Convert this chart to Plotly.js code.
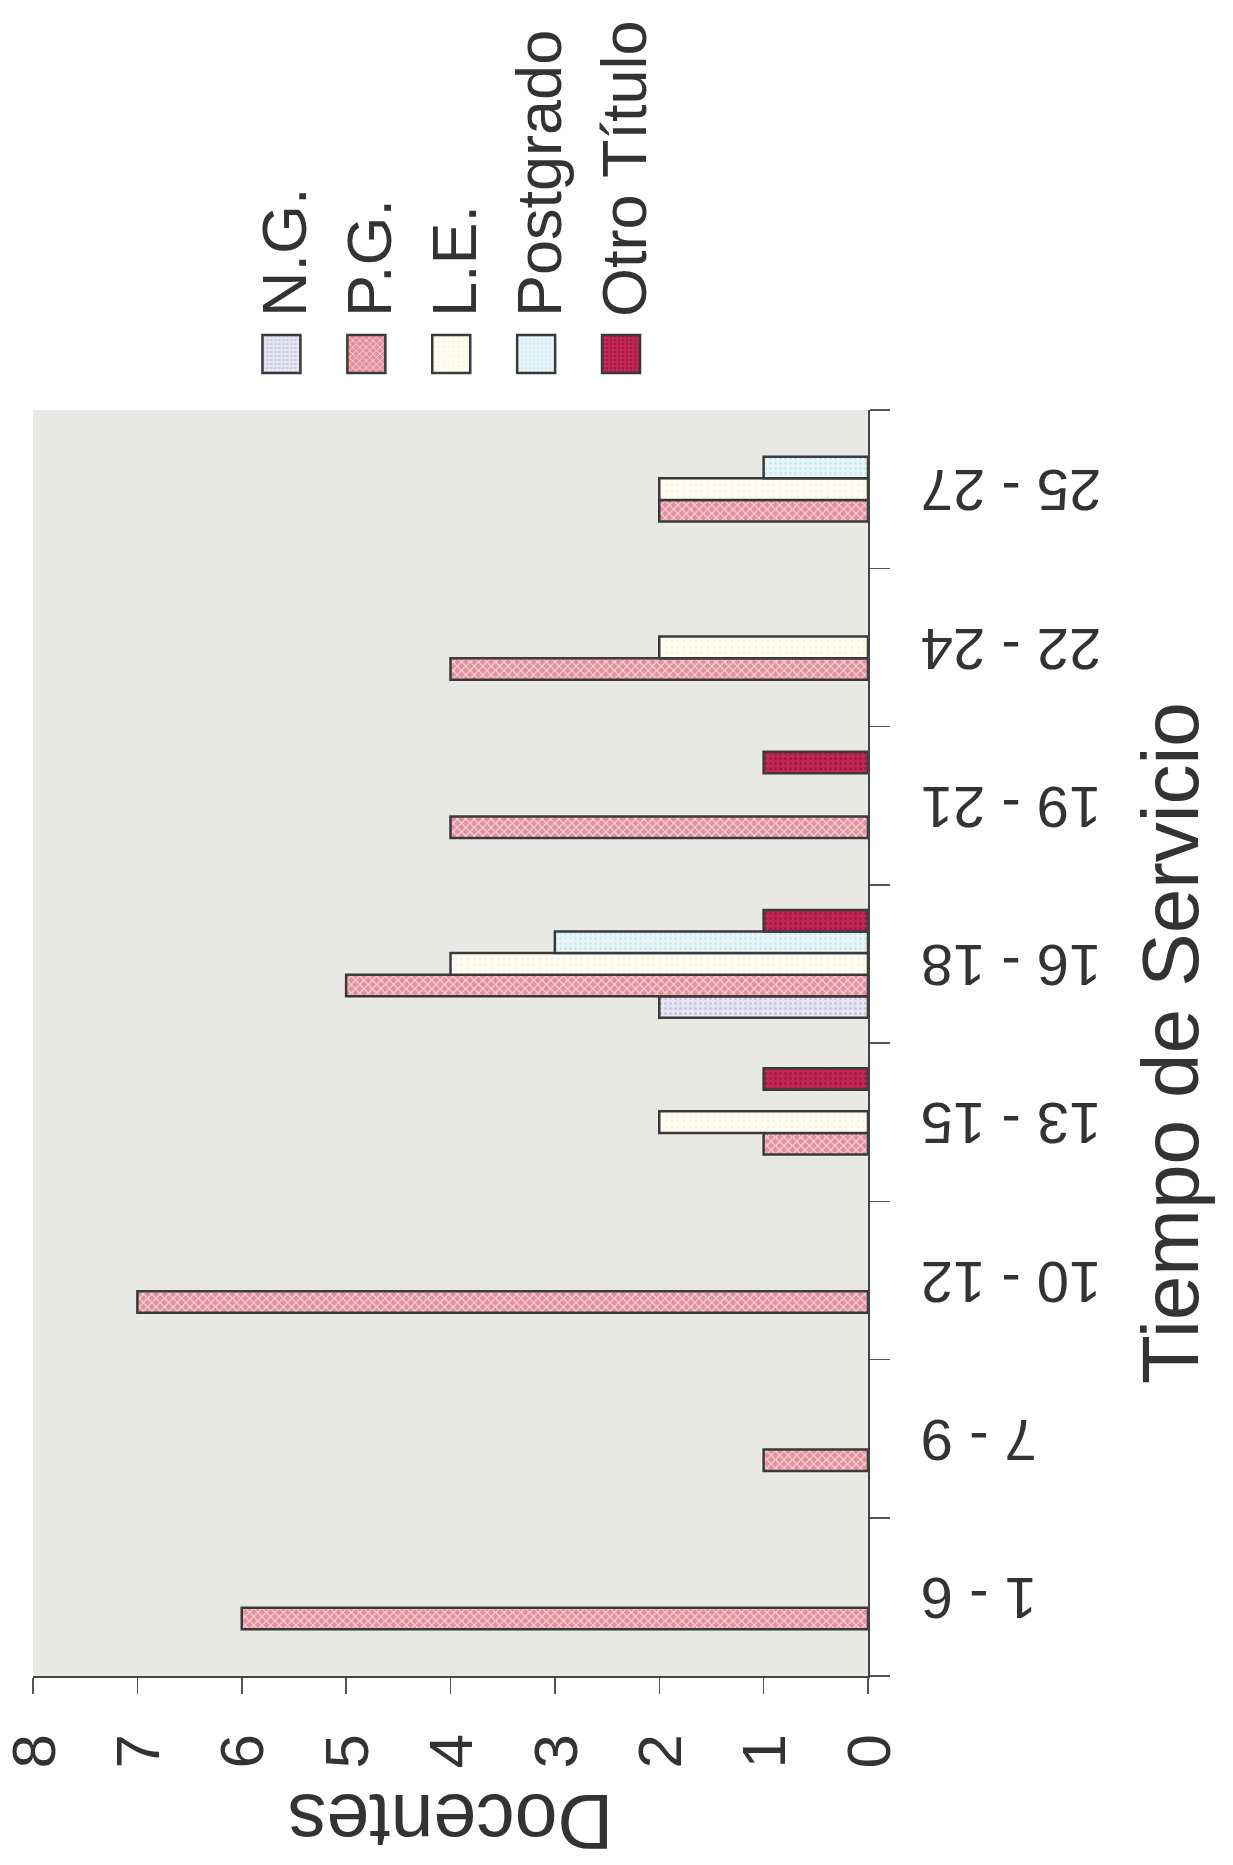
<!DOCTYPE html>
<html><head><meta charset="utf-8">
<script src="https://cdn.plot.ly/plotly-3.0.1.min.js"></script>
<style>
html,body{margin:0;padding:0;background:#fff;width:1233px;height:1865px;overflow:hidden;}
#rot{position:absolute;left:0;top:0;width:1865px;height:1233px;transform-origin:0 0;transform:translateY(1865px) rotate(-90deg);}
</style></head><body>
<div id="rot"><div id="chart" style="width:1865px;height:1233px;"></div></div>
<script>
// ---- data ----
const categories = ['1 - 6','7 - 9','10 - 12','13 - 15','16 - 18','19 - 21','22 - 24','25 - 27'];
const seriesNames = ['N.G.','P.G.','L.E.','Postgrado','Otro Título'];
const ngValues        = [null, null, null, null, 2, null, null, null];
const pgValues        = [6, 1, 7, 1, 5, 4, 4, 2];
const leValues        = [null, null, null, 2, 4, null, 2, 2];
const postgradoValues = [null, null, null, null, 3, null, null, 1];
const otroValues      = [null, null, null, 1, 1, 1, null, null];
const valueTicks = [0, 1, 2, 3, 4, 5, 6, 7, 8];
const axisTitleX = 'Tiempo de Servicio';
const axisTitleY = 'Docentes';

// ---- styles ----
const seriesValues = [ngValues, pgValues, leValues, postgradoValues, otroValues];
const fills = [
  {bg:'#e6e6f4', fg:'#c4c4de', shape:'.', size:5, sol:0.25},
  {bg:'#e3909d', fg:'#fbe0e4', shape:'x', size:6, sol:0.3},
  {bg:'#fffcef', fg:'#f4f0dc', shape:'.', size:6, sol:0.1},
  {bg:'#e6f5fa', fg:'#cde4ec', shape:'.', size:5, sol:0.2},
  {bg:'#c4265a', fg:'#9c1a45', shape:'.', size:5, sol:0.3}
];

const traces = seriesNames.map((name, i) => ({
  type:'bar', name:name, x:categories, y:seriesValues[i],
  marker:{color:fills[i].bg,
    pattern:{shape:fills[i].shape, bgcolor:fills[i].bg, fgcolor:fills[i].fg, size:fills[i].size, solidity:fills[i].sol},
    line:{color:'#3a3a3a', width:2.5}},
  hoverinfo:'skip'
}));

const layout = {
  width:1865, height:1233,
  margin:{l:189, r:410, t:33, b:365, autoexpand:false},
  paper_bgcolor:'#ffffff', plot_bgcolor:'#e8e8e5',
  barmode:'group', bargap:0.32, bargroupgap:0,
  font:{family:'Liberation Sans, Arial, sans-serif', color:'#333'},
  showlegend:true,
  xaxis:{type:'category', tickangle:-90, ticks:'outside', tickson:'boundaries', ticklen:20, tickwidth:1.5,
    tickcolor:'#555', showline:true, linecolor:'#444', linewidth:1.5, showgrid:false,
    tickfont:{size:58, color:'#333'}, ticklabelstandoff:28, automargin:false, ticklabeloverflow:'allow',
    title:{text:axisTitleX, font:{size:80, color:'#333'}, standoff:41}},
  yaxis:{range:[0,8], tickvals:valueTicks, ticks:'outside', ticklen:16, tickwidth:1.5, tickcolor:'#555',
    showline:true, linecolor:'#444', linewidth:1.5, showgrid:false, zeroline:false,
    tickfont:{size:62, color:'#333'}, ticklabelstandoff:28, automargin:false, ticklabeloverflow:'allow',
    title:{text:axisTitleY, font:{size:77, color:'#333'}, standoff:8}},
  legend:{xref:'container', yref:'container', x:1474/1865, y:1-234/1233, xanchor:'left', yanchor:'top',
    font:{size:63, color:'#333'}, bgcolor:'rgba(0,0,0,0)', tracegroupgap:0, traceorder:'normal', itemwidth:64}
};

Plotly.newPlot('chart', traces, layout, {staticPlot:true, displayModeBar:false}).then(gd => {
  gd.querySelectorAll('.legend .legendpoints path').forEach(p => {
    p.setAttribute('d', 'M19,19H-19V-19H19Z');
  });
});
</script>
</body></html>
